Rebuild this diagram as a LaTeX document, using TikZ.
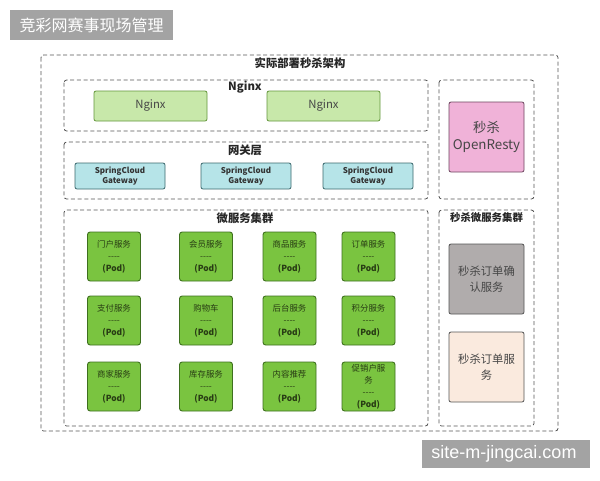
\documentclass[tikz,border=0pt]{standalone}
\usepackage{fontspec}
\setmainfont{Noto Sans CJK SC}
\newfontfamily\wmfont{Liberation Sans}
\usepackage{tikz}
\usetikzlibrary{positioning}
\definecolor{BannerGray}{RGB}{163,163,163}
\definecolor{FrameGray}{RGB}{85,85,85}
\definecolor{NginxFill}{RGB}{200,232,170}
\definecolor{NginxLine}{RGB}{100,150,60}
\definecolor{GateFill}{RGB}{182,228,232}
\definecolor{GateLine}{RGB}{60,105,110}
\definecolor{PodFill}{RGB}{122,196,64}
\definecolor{PodLine}{RGB}{62,112,30}
\definecolor{PodText}{RGB}{40,60,20}
\definecolor{RestyFill}{RGB}{240,178,216}
\definecolor{RestyLine}{RGB}{110,70,95}
\definecolor{ConfirmFill}{RGB}{176,172,172}
\definecolor{OrderFill}{RGB}{250,234,222}
\definecolor{BoxText}{RGB}{70,70,70}
\newcommand{\podsep}{-{}-{}-{}-}
\newcommand{\podtag}{\textbf{(Pod)}}
\tikzset{group/.style={draw=FrameGray,dash pattern=on 3pt off 2pt,line width=0.6pt,rounded corners=2pt},
	grouptitle/.style={font=\bfseries\fontsize{8.5}{10}\selectfont,text=black!85},
	nginxbox/.style={draw=NginxLine,fill=NginxFill,line width=0.6pt,rounded corners=1.5pt,minimum width=84.75pt,minimum height=22.5pt,font=\fontsize{8.5}{10}\selectfont,text=BoxText},
	gatebox/.style={draw=GateLine,fill=GateFill,line width=0.6pt,rounded corners=1.5pt,minimum width=67.5pt,minimum height=19.5pt,inner sep=0pt,align=center,font=\bfseries\fontsize{6}{7}\selectfont,text=black!80},
	podbox/.style={draw=PodLine,fill=PodFill,line width=0.7pt,rounded corners=2pt,minimum width=39.75pt,minimum height=36.75pt,inner sep=0pt,align=center,font=\fontsize{6.3}{9}\selectfont,text=PodText},
	seckill/.style={draw=FrameGray,line width=0.6pt,rounded corners=1.5pt,minimum width=56.25pt,minimum height=52.5pt,inner sep=0pt,align=center,font=\fontsize{8.5}{12}\selectfont,text=BoxText}}

\begin{document}
\begin{tikzpicture}[x=0.75pt,y=-0.75pt]
	\useasboundingbox (0,0) rectangle (600,480);
	\fill[white] (0,0) rectangle (600,480);
	% banner and watermark
	\fill[BannerGray] (10,10) rectangle (173,40);
	\node[text=white,font=\fontsize{12}{14}\selectfont] (banner) at (91.5,25) {竞彩网赛事现场管理};
	\fill[BannerGray] (422,440) rectangle (590,468);
	\node[text=white,font=\wmfont\fontsize{13.5}{15}\selectfont] (mark) at (504,454) {site-m-jingcai.com};
	% containers
	\draw[group] (41,55) rectangle (558,431);
	\node[grouptitle] (deploy) at (300,63) {实际部署秒杀架构};
	\draw[group] (64,80) rectangle (428,131);
	\node[grouptitle] (nginxtitle) at (245,87) {Nginx};
	\draw[group] (64,142) rectangle (428,199);
	\node[grouptitle] (gatetitle) at (245,150) {网关层};
	\draw[group] (64,210) rectangle (428,426);
	\node[grouptitle] (mstitle) at (245,218) {微服务集群};
	\draw[group] (439,80) rectangle (534,199);
	\draw[group] (439,210) rectangle (534,426);
	\node[grouptitle,font=\bfseries\fontsize{7.8}{9}\selectfont] (sktitle) at (486.5,218) {秒杀微服务集群};
	% nginx
	\node[nginxbox] (nginx1) at (150.5,106) {Nginx};
	\node[nginxbox] (nginx2) at (323.5,106) {Nginx};
	% gateways
	\node[gatebox] (gw1) at (120,176) {SpringCloud\\Gateway};
	\node[gatebox] (gw2) at (246,176) {SpringCloud\\Gateway};
	\node[gatebox] (gw3) at (368,176) {SpringCloud\\Gateway};
	% pods
	\node[podbox] (portal) at (114,256.5) {门户服务\\\podsep\\\podtag};
	\node[podbox] (member) at (206,256.5) {会员服务\\\podsep\\\podtag};
	\node[podbox] (goods) at (289.5,256.5) {商品服务\\\podsep\\\podtag};
	\node[podbox] (order) at (368.5,256.5) {订单服务\\\podsep\\\podtag};
	\node[podbox] (pay) at (114,320.5) {支付服务\\\podsep\\\podtag};
	\node[podbox] (cart) at (206,320.5) {购物车\\\podsep\\\podtag};
	\node[podbox] (admin) at (289.5,320.5) {后台服务\\\podsep\\\podtag};
	\node[podbox] (points) at (368.5,320.5) {积分服务\\\podsep\\\podtag};
	\node[podbox] (seller) at (114,386.5) {商家服务\\\podsep\\\podtag};
	\node[podbox] (stock) at (206,386.5) {库存服务\\\podsep\\\podtag};
	\node[podbox] (recommend) at (289.5,386.5) {内容推荐\\\podsep\\\podtag};
	\node[podbox] (promo) at (368.5,386.5) {促销户服\\务\\\podsep\\\podtag};
	% seckill side
	\node[seckill,draw=RestyLine,fill=RestyFill,font=\fontsize{10}{13}\selectfont] (resty) at (486.5,137) {秒杀\\OpenResty};
	\node[seckill,fill=ConfirmFill] (confirm) at (486.5,279) {秒杀订单确\\认服务};
	\node[seckill,fill=OrderFill] (skorder) at (486.5,367) {秒杀订单服\\务};
\end{tikzpicture}
\end{document}
